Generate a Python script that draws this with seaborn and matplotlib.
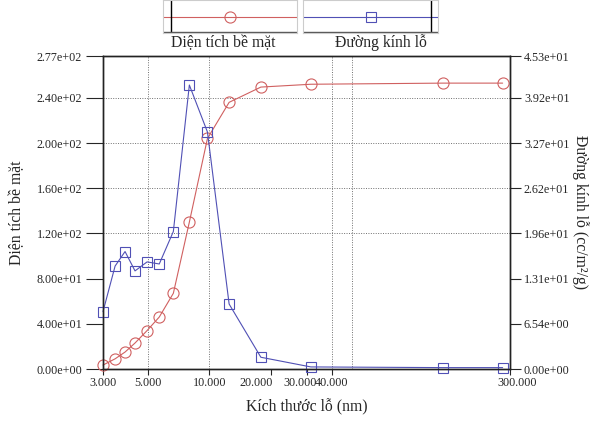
import numpy as np
import pandas as pd
import matplotlib
matplotlib.use("Agg")
import matplotlib.pyplot as plt
import matplotlib.transforms as mtransforms
import seaborn as sns

# ---- data ----
pore_size = [3.0, 3.44, 3.85, 4.31, 4.94, 5.67, 6.65, 7.97, 9.78, 12.5, 17.9, 31.5, 141, 276]
surface_area = [3.5, 9, 15, 23, 34, 46, 67, 130, 204, 236, 249.5, 252, 253, 253]
pore_diam = [8.3, 14.9, 17.0, 14.2, 15.5, 15.2, 19.9, 41.1, 34.3, 9.4, 1.7, 0.3, 0.2, 0.2]

x_ticks = [3, 5, 10, 20, 30, 40, 300]
left_ticks = [0, 40, 80, 120, 160, 200, 240, 277]
right_labels = ["0.00e+00", "6.54e+00", "1.31e+01", "1.96e+01", "2.62e+01",
                "3.27e+01", "3.92e+01", "4.53e+01"]
hgrid = [120, 160, 200, 240]
vgrid = [5, 10, 40, 50]

df = pd.DataFrame({"size": pore_size, "area": surface_area, "diam": pore_diam})

RED = "#d06060"
BLUE = "#5050b5"

sns.set_style("white")
plt.rcParams["font.family"] = ["Liberation Serif", "DejaVu Serif"]

fig = plt.figure(figsize=(5.99, 4.23), dpi=100)
ax = fig.add_axes([103 / 599, 1 - 369 / 423, 407 / 599, 313 / 423])
ax2 = ax.twinx()

sns.lineplot(data=df, x="size", y="area", ax=ax, color=RED, lw=0.8,
             marker="o", markersize=8, mfc="none", mec=RED, mew=0.8, clip_on=False)
sns.lineplot(data=df, x="size", y="diam", ax=ax2, color=BLUE, lw=0.8,
             marker="s", markersize=7.5, mfc="none", mec=BLUE, mew=0.8, clip_on=False)

ax.set_xscale("log")
ax.set_xlim(3, 300)
ax.set_ylim(0, 277)
ax2.set_ylim(0, 45.3)

for h in hgrid:
    ax.axhline(h, color="#707070", ls=(0, (1, 1.5)), lw=0.7, zorder=0)
for v in vgrid:
    ax.axvline(v, color="#707070", ls=(0, (1, 1.5)), lw=0.7, zorder=0)

ax.set_xticks(x_ticks)
ax.set_xticklabels(["%.3f" % t for t in x_ticks])
ax.xaxis.set_minor_locator(matplotlib.ticker.NullLocator())
ax.set_yticks(left_ticks)
ax.set_yticklabels(["%.2e" % t for t in left_ticks])
ax2.set_yticks(np.array(left_ticks) * 45.3 / 277)
ax2.set_yticklabels(right_labels)

ax.tick_params(axis="y", length=12, width=0.8, labelsize=8.7, pad=3, direction="out", left=True)
ax.tick_params(axis="x", length=4, width=0.8, labelsize=8.7, pad=2, direction="out", bottom=True)
ax2.tick_params(axis="y", length=8, width=0.8, labelsize=8.7, pad=2, direction="out", right=True)

# the old software placed some x labels off-centre
shifts = {20: -15, 30: -6, 300: 7}
for t, lab in zip(x_ticks, ax.get_xticklabels()):
    if t in shifts:
        lab.set_transform(lab.get_transform() +
                          mtransforms.ScaledTranslation(shifts[t] / 100, 0, fig.dpi_scale_trans))

for a in (ax, ax2):
    for s in a.spines.values():
        s.set_color("#222222")
        s.set_linewidth(1.0)

ax.set_xlabel("Kích thước lỗ (nm)", fontsize=11.3, labelpad=7)
ax.set_ylabel("Diện tích bề mặt", fontsize=11.3, labelpad=8)
ax2.set_ylabel("Đường kính lỗ (cc/m²/g)", fontsize=11.3, rotation=270, labelpad=14)

# ---- legend boxes on top ----
def legend_box(x0, x1, color, marker, vline, label, label_x):
    lx = fig.add_axes([x0 / 599, 1 - 33 / 423, (x1 - x0) / 599, 33 / 423])
    lx.set_xlim(x0, x1)
    lx.set_ylim(33, 0)
    lx.plot([x0, x1], [17, 17], color=color, lw=0.8)
    lx.plot([(x0 + x1) / 2], [17], marker=marker, ms=8 if marker == "o" else 7.5,
            mfc="none", mec=color, mew=0.8)
    lx.plot([vline, vline], [0, 32], color="black", lw=1.0)
    lx.plot([x0, x1], [32, 32], color="#555555", lw=1.0)
    lx.set_xticks([])
    lx.set_yticks([])
    for s in lx.spines.values():
        s.set_color("#cccccc")
        s.set_linewidth(0.8)
    fig.text(label_x / 599, 1 - 43 / 423, label, ha="center", va="center", fontsize=11.3)

legend_box(163, 297, RED, "o", 171, "Diện tích bề mặt", 223)
legend_box(303, 438, BLUE, "s", 431, "Đường kính lỗ", 381)

fig.savefig("out.png", dpi=100)
